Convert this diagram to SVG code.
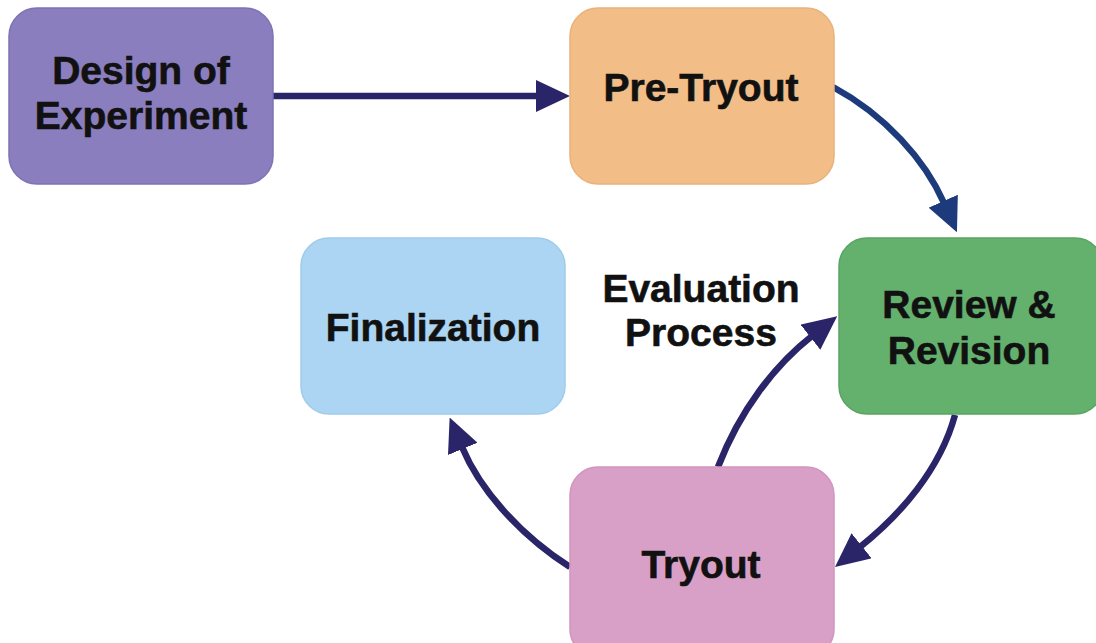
<svg xmlns="http://www.w3.org/2000/svg" width="1096" height="643" viewBox="0 0 1096 643">
  <style>
    .box { stroke-width: 1.5; }
    .label { font-family: "Liberation Sans", Arial, sans-serif; font-weight: bold; font-size: 39px; fill: #111; stroke: #111; stroke-width: 0.6; text-anchor: middle; }
    .conn { fill: none; stroke: #2a2468; stroke-width: 6.5; }
    .conn.blue { stroke: #1c3a7c; }
  </style>
  <defs>
    <marker id="head" markerUnits="userSpaceOnUse" viewBox="0 0 34 32" refX="2" refY="16" markerWidth="34" markerHeight="32" orient="auto">
      <path d="M0,0 L34,16 L0,32 z" fill="#2a2468"/>
    </marker>
    <marker id="headBlue" markerUnits="userSpaceOnUse" viewBox="0 0 34 32" refX="2" refY="16" markerWidth="34" markerHeight="32" orient="auto">
      <path d="M0,0 L34,16 L0,32 z" fill="#1c3a7c"/>
    </marker>
  </defs>
  <rect width="1096" height="643" fill="#ffffff"/>

  <g id="connectors">
    <path class="conn" d="M273,96 L538,96" marker-end="url(#head)"/>
    <path class="conn blue" d="M833,87 C885,115 925,160 944,203" marker-end="url(#headBlue)"/>
    <path class="conn" d="M955,415 C940,470 900,515 860,547" marker-end="url(#head)"/>
    <path class="conn" d="M718,467 C740,410 775,365 812,336" marker-end="url(#head)"/>
    <path class="conn" d="M570,567 C520,535 480,490 462,447" marker-end="url(#head)"/>
  </g>

  <g id="design">
    <rect class="box" x="9" y="8" width="264" height="176" rx="28" fill="#8a7ebe" stroke="#7f73b2"/>
    <text class="label" x="141" y="84">Design of</text>
    <text class="label" x="141" y="129">Experiment</text>
  </g>

  <g id="pretryout">
    <rect class="box" x="570" y="8" width="264" height="176" rx="28" fill="#f2bd87" stroke="#e8b27c"/>
    <text class="label" x="701" y="101">Pre-Tryout</text>
  </g>

  <g id="review">
    <rect class="box" x="839" y="238" width="264" height="176" rx="28" fill="#64b06d" stroke="#5aa463"/>
    <text class="label" x="969" y="318">Review &amp;</text>
    <text class="label" x="969" y="364">Revision</text>
  </g>

  <g id="finalization">
    <rect class="box" x="301" y="238" width="264" height="176" rx="28" fill="#acd5f3" stroke="#a0cbea"/>
    <text class="label" x="433" y="341">Finalization</text>
  </g>

  <g id="tryout">
    <rect class="box" x="570" y="467" width="264" height="190" rx="28" fill="#d9a0c7" stroke="#cf95bd"/>
    <text class="label" x="701" y="578">Tryout</text>
  </g>

  <g id="evaluation">
    <text class="label" x="701" y="302">Evaluation</text>
    <text class="label" x="701" y="346">Process</text>
  </g>
</svg>
